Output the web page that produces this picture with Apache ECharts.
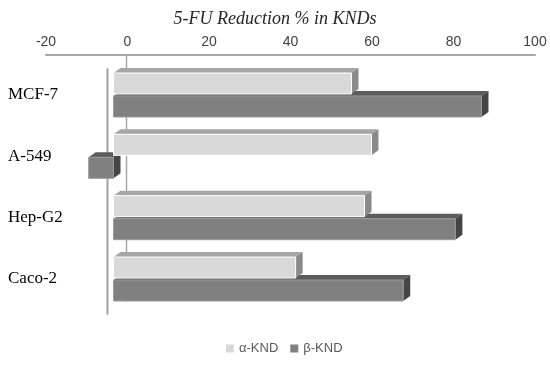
<!DOCTYPE html>
<html>
<head>
<meta charset="utf-8">
<script src="https://cdn.jsdelivr.net/npm/echarts@6/dist/echarts.min.js"></script>
<style>html,body{margin:0;padding:0;background:#fff}#c{width:550px;height:365px}</style>
</head>
<body>
<div id="c"></div>
<script>
var categories = ['MCF-7', 'A-549', 'Hep-G2', 'Caco-2'];
var alphaKND = [58.4, 63.3, 61.6, 44.7];
var betaKND = [90.3, -6.1, 83.9, 71.1];
var xTicks = [-20, 0, 20, 40, 60, 80, 100];
var seriesNames = ['α-KND', 'β-KND'];

var DX = 7, DY = 5, BH = 21, BACK = -7;

function makeRender(isAlpha, front, top, side, stroke) {
  return function (params, api) {
    var v = api.value(0), ci = api.value(1);
    var p0 = api.coord([0, ci]), p1 = api.coord([v, ci]);
    var xa = Math.min(p0[0], p1[0]) + BACK - DX, xb = Math.max(p0[0], p1[0]) + BACK - DX;
    var c = p0[1];
    var y0 = isAlpha ? c - 22 : c + 1;
    var y1 = y0 + BH;
    return {
      type: 'group',
      children: [
        { type: 'polygon', shape: { points: [[xa, y0], [xa + DX, y0 - DY], [xb + DX, y0 - DY], [xb, y0]] }, style: { fill: top } },
        { type: 'polygon', shape: { points: [[xb, y0], [xb + DX, y0 - DY], [xb + DX, y1 - DY], [xb, y1]] }, style: { fill: side } },
        { type: 'rect', shape: { x: xa, y: y0, width: xb - xa, height: BH }, style: { fill: front, stroke: stroke, lineWidth: 1 } }
      ]
    };
  };
}

var chart = echarts.init(document.getElementById('c'), null, { renderer: 'canvas' });
chart.setOption({
  animation: false,
  backgroundColor: '#fff',
  title: {
    text: '5-FU Reduction % in KNDs',
    left: 'center', top: 5,
    textStyle: { fontFamily: 'Liberation Serif', fontStyle: 'italic', fontWeight: 'normal', fontSize: 18, color: '#262626' }
  },
  legend: {
    data: seriesNames,
    top: 342, left: 226, padding: 0,
    icon: 'rect', itemWidth: 8, itemHeight: 8, itemGap: 12,
    textStyle: { color: '#595959', fontSize: 13, fontFamily: 'Liberation Sans' }
  },
  grid: { left: 46, right: 15, top: 64.3, bottom: 55.3, containLabel: false },
  xAxis: {
    type: 'value', position: 'top', offset: 10,
    min: xTicks[0], max: xTicks[xTicks.length - 1], interval: 20,
    axisLine: { show: true, lineStyle: { color: '#a6a6a6', width: 2 } },
    axisTick: { show: false },
    splitLine: { show: false },
    axisLabel: { color: '#404040', fontSize: 14, fontFamily: 'Liberation Sans', margin: 5 }
  },
  yAxis: {
    type: 'category', data: categories, inverse: true,
    axisLine: { show: false, onZero: false },
    axisTick: { show: false },
    axisLabel: { align: 'left', margin: 38, color: '#000', fontSize: 17, fontFamily: 'Liberation Serif' }
  },
  series: [
    {
      name: 'decor', type: 'custom', silent: true, z: 1,
      data: [[0, 0]], encode: { x: 0, y: 1 },
      renderItem: function (params, api) {
        var p = api.coord([0, 0]);
        var cs = params.coordSys;
        return {
          type: 'group',
          children: [
            { type: 'line', shape: { x1: p[0] - 1, y1: cs.y - 10, x2: p[0] - 1, y2: cs.y + cs.height - 8 }, style: { stroke: '#a6a6a6', lineWidth: 1.5 } },
            { type: 'line', shape: { x1: p[0] - 20, y1: cs.y + 4, x2: p[0] - 20, y2: cs.y + cs.height + 5 }, style: { stroke: '#a0a0a0', lineWidth: 2 } }
          ]
        };
      }
    },
    {
      name: seriesNames[1], type: 'custom', z: 2,
      itemStyle: { color: '#808080' },
      data: betaKND.map(function (v, i) { return [v, i]; }), encode: { x: 0, y: 1 },
      renderItem: makeRender(false, '#808080', '#5c5c5c', '#454545', '#9a9a9a')
    },
    {
      name: seriesNames[0], type: 'custom', z: 3,
      itemStyle: { color: '#d9d9d9' },
      data: alphaKND.map(function (v, i) { return [v, i]; }), encode: { x: 0, y: 1 },
      renderItem: makeRender(true, '#d9d9d9', '#a6a6a6', '#8a8a8a', '#ffffff')
    }
  ]
});
</script>
</body>
</html>
